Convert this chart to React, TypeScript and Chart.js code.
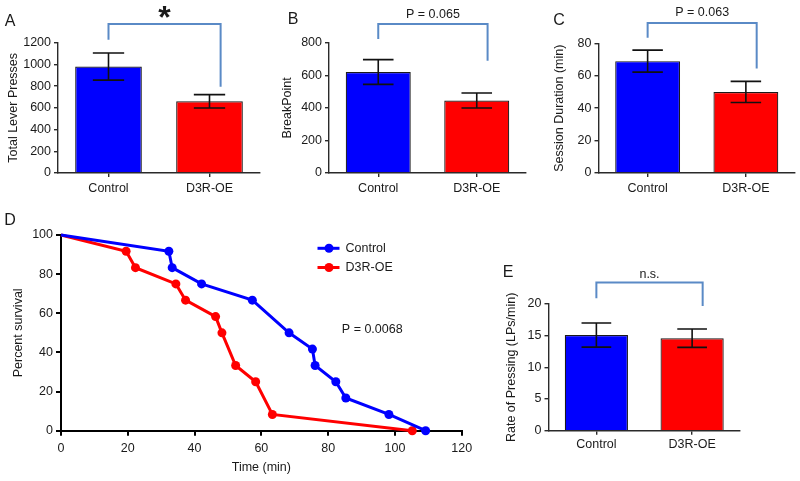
import React, { useEffect, useRef } from 'react';
import { Chart, registerables } from 'chart.js';

Chart.register(...registerables);

// ---------------- data ----------------
const groups = ['Control', 'D3R-OE'];

const leverMean = [980, 660];
const leverSem = [125, 62];

const breakMean = [620, 445];
const breakSem = [76, 46];

const durationMean = [69, 50];
const durationSem = [6.8, 6.5];

const rateMean = [15.1, 14.6];
const rateSem = [1.9, 1.45];

const controlTime = [0, 32.3, 33.3, 42.1, 57.3, 68.3, 75.3, 76.1, 82.3, 85.3, 98.2, 109.2];
const controlSurvival = [100, 91.7, 83.3, 75, 66.7, 50, 41.7, 33.3, 25, 16.7, 8.3, 0];
const d3rTime = [0, 19.5, 22.3, 34.4, 37.3, 46.3, 48.2, 52.3, 58.3, 63.3, 105.2];
const d3rSurvival = [100, 91.7, 83.3, 75, 66.7, 58.3, 50, 33.3, 25, 8.3, 0];

const pLabels = ['*', 'P = 0.065', 'P = 0.063', 'n.s.'];
const survivalP = 'P = 0.0068';

// ---------------- styles ----------------
const FONT_FAMILY = "'Liberation Sans', Arial, Helvetica, sans-serif";
const BLUE = '#0000FF';
const RED = '#FF0000';
const AXIS = '#2a2a2a';
const TEXT = '#1a1a1a';
const BRACKET = '#5A8AC6';
const FS = 12.5;

Chart.defaults.font.family = FONT_FAMILY;
Chart.defaults.font.size = FS;
Chart.defaults.color = TEXT;

type Box = { x: number; y: number; w: number; h: number };
type Area = { left: number; top: number; right: number; bottom: number };

type BarSpec = {
  box: Box;
  area: Area;
  yMax: number;
  yStep: number;
  yTitle: string;
  titleCenterX: number;
  xLabelPad: number;
  means: number[];
  sems: number[];
  bracket: { top: number; leftEnd: number; rightEnd: number; label: string; font: string; gap: number };
  letter: { text: string; x: number; y: number };
};

const plainTick = (v: any) => String(v);

function barExtras(p: BarSpec) {
  return {
    id: 'barExtras',
    afterDatasetsDraw(chart: any) {
      const ctx = chart.ctx as CanvasRenderingContext2D;
      const meta = chart.getDatasetMeta(0);
      const ys = chart.scales.y;
      ctx.save();
      ctx.strokeStyle = '#111';
      ctx.lineWidth = 1.6;
      meta.data.forEach((bar: any, i: number) => {
        const m = p.means[i];
        const s = p.sems[i];
        const x = bar.x;
        const half = bar.width * 0.235;
        const yT = ys.getPixelForValue(m + s);
        const yB = ys.getPixelForValue(m - s);
        ctx.beginPath();
        ctx.moveTo(x, yT);
        ctx.lineTo(x, yB);
        ctx.moveTo(x - half, yT);
        ctx.lineTo(x + half, yT);
        ctx.moveTo(x - half, yB);
        ctx.lineTo(x + half, yB);
        ctx.stroke();
      });
      ctx.restore();
    },
    afterDraw(chart: any) {
      const ctx = chart.ctx as CanvasRenderingContext2D;
      const xs = chart.scales.x;
      const ys = chart.scales.y;
      const b = p.bracket;
      const xL = xs.getPixelForValue(0);
      const xR = xs.getPixelForValue(1.11);
      const yTop = ys.getPixelForValue(b.top);
      ctx.save();
      ctx.strokeStyle = BRACKET;
      ctx.lineWidth = 2;
      ctx.beginPath();
      ctx.moveTo(xL, ys.getPixelForValue(b.leftEnd));
      ctx.lineTo(xL, yTop);
      ctx.lineTo(xR, yTop);
      ctx.lineTo(xR, ys.getPixelForValue(b.rightEnd));
      ctx.stroke();
      ctx.fillStyle = TEXT;
      ctx.font = b.font;
      ctx.textAlign = 'center';
      ctx.textBaseline = 'middle';
      ctx.fillText(b.label, (xL + xR) / 2, yTop - b.gap);
      ctx.font = `16px ${FONT_FAMILY}`;
      ctx.fillText(p.letter.text, p.letter.x - p.box.x, p.letter.y - p.box.y);
      ctx.restore();
    },
  };
}

function barConfig(p: BarSpec): any {
  const { box, area } = p;
  const yw = area.left - box.x;
  const padTop = area.top - box.y;
  const padRight = box.x + box.w - area.right;
  const xh = box.y + box.h - area.bottom;
  const lh = FS * 1.2;
  return {
    type: 'bar',
    data: {
      labels: groups,
      datasets: [
        {
          data: p.means,
          backgroundColor: [BLUE, RED],
          borderColor: '#1a1a1a',
          borderWidth: 1.2,
          borderSkipped: 'start',
          barPercentage: 0.66,
          categoryPercentage: 1,
        },
      ],
    },
    options: {
      responsive: false,
      animation: false,
      events: [],
      layout: { padding: { left: 0, top: padTop, right: padRight, bottom: 0 } },
      plugins: { legend: { display: false }, tooltip: { enabled: false } },
      scales: {
        x: {
          grid: { drawOnChartArea: false, offset: false, tickLength: 4, color: AXIS, lineWidth: 1.4 },
          border: { display: true, color: AXIS, width: 1.6 },
          ticks: { padding: p.xLabelPad, color: TEXT, font: { size: FS } },
          afterFit: (s: any) => {
            s.height = xh;
          },
        },
        y: {
          min: 0,
          max: p.yMax,
          ticks: { stepSize: p.yStep, padding: 3, color: TEXT, font: { size: FS }, callback: plainTick },
          grid: { drawOnChartArea: false, tickLength: 4, color: AXIS, lineWidth: 1.4 },
          border: { display: true, color: AXIS, width: 1.4 },
          title: {
            display: true,
            text: p.yTitle,
            color: TEXT,
            font: { size: FS },
            padding: { top: p.titleCenterX - box.x - lh / 2, bottom: 0 },
          },
          afterFit: (s: any) => {
            s.width = yw;
          },
        },
      },
    },
    plugins: [barExtras(p)],
  };
}

const panelA: BarSpec = {
  box: { x: 0, y: 0, w: 270, h: 200 },
  area: { left: 58, top: 42.7, right: 260, bottom: 173 },
  yMax: 1200,
  yStep: 200,
  yTitle: 'Total Lever Presses',
  titleCenterX: 13.3,
  xLabelPad: 3.8,
  means: leverMean,
  sems: leverSem,
  bracket: { top: 1372, leftEnd: 1228, rightEnd: 794, label: pLabels[0], font: `bold 32px ${FONT_FAMILY}`, gap: 5.3 },
  letter: { text: 'A', x: 10, y: 22 },
};

const panelB: BarSpec = {
  box: { x: 260, y: 0, w: 270, h: 200 },
  area: { left: 329, top: 42.7, right: 526, bottom: 173 },
  yMax: 800,
  yStep: 200,
  yTitle: 'BreakPoint',
  titleCenterX: 287.3,
  xLabelPad: 3.8,
  means: breakMean,
  sems: breakSem,
  bracket: { top: 915, leftEnd: 823, rightEnd: 689, label: pLabels[1], font: `${FS}px ${FONT_FAMILY}`, gap: 9.3 },
  letter: { text: 'B', x: 293, y: 20 },
};

const panelC: BarSpec = {
  box: { x: 530, y: 0, w: 270, h: 200 },
  area: { left: 598.5, top: 43.3, right: 795, bottom: 173 },
  yMax: 80,
  yStep: 20,
  yTitle: 'Session Duration (min)',
  titleCenterX: 559.3,
  xLabelPad: 3.8,
  means: durationMean,
  sems: durationSem,
  bracket: { top: 92.5, leftEnd: 83.5, rightEnd: 64.4, label: pLabels[2], font: `${FS}px ${FONT_FAMILY}`, gap: 10.4 },
  letter: { text: 'C', x: 559, y: 21 },
};

const panelE: BarSpec = {
  box: { x: 480, y: 240, w: 320, h: 241 },
  area: { left: 548.5, top: 304, right: 740, bottom: 430.7 },
  yMax: 20,
  yStep: 5,
  yTitle: 'Rate of Pressing (LPs/min)',
  titleCenterX: 511.7,
  xLabelPad: 2.2,
  means: rateMean,
  sems: rateSem,
  bracket: { top: 23.4, leftEnd: 20.9, rightEnd: 19.7, label: pLabels[3], font: `${FS}px ${FONT_FAMILY}`, gap: 8.4 },
  letter: { text: 'E', x: 508, y: 273 },
};

const boxD: Box = { x: 0, y: 205, w: 480, h: 276 };
const areaD: Area = { left: 61, top: 235, right: 461.7, bottom: 430.7 };

function survivalConfig(): any {
  const box = boxD;
  const area = areaD;
  const lh = FS * 1.2;
  const yw = area.left - box.x;
  const padTop = area.top - box.y;
  const padRight = box.x + box.w - area.right;
  const xh = box.y + box.h - area.bottom;
  const extras = {
    id: 'survivalExtras',
    afterDraw(chart: any) {
      const ctx = chart.ctx as CanvasRenderingContext2D;
      const xs = chart.scales.x;
      const ys = chart.scales.y;
      ctx.save();
      // legend
      const legendY = [248.3, 267.5];
      chart.data.datasets.forEach((ds: any, i: number) => {
        const y = legendY[i] - box.y;
        ctx.strokeStyle = ds.borderColor;
        ctx.lineWidth = 3;
        ctx.beginPath();
        ctx.moveTo(317.5 - box.x, y);
        ctx.lineTo(339.5 - box.x, y);
        ctx.stroke();
        ctx.fillStyle = ds.borderColor;
        ctx.beginPath();
        ctx.arc(329 - box.x, y, 4.5, 0, Math.PI * 2);
        ctx.fill();
        ctx.fillStyle = TEXT;
        ctx.font = `${FS}px ${FONT_FAMILY}`;
        ctx.textAlign = 'left';
        ctx.textBaseline = 'middle';
        ctx.fillText(ds.label, 345.5 - box.x, y);
      });
      // p value
      ctx.fillStyle = TEXT;
      ctx.font = `${FS}px ${FONT_FAMILY}`;
      ctx.textAlign = 'left';
      ctx.textBaseline = 'middle';
      ctx.fillText(survivalP, xs.getPixelForValue(84.1), ys.getPixelForValue(51.5));
      // letter
      ctx.font = `16px ${FONT_FAMILY}`;
      ctx.textAlign = 'center';
      ctx.fillText('D', 10 - box.x, 221 - box.y);
      ctx.restore();
    },
  };
  return {
    type: 'line',
    data: {
      datasets: [
        {
          label: 'Control',
          data: controlTime.map((t, i) => ({ x: t, y: controlSurvival[i] })),
          borderColor: BLUE,
          backgroundColor: BLUE,
          borderWidth: 3,
          pointRadius: controlTime.map((_, i) => (i === 0 ? 0 : 4.5)),
          pointBorderWidth: 0,
          tension: 0,
          clip: false,
        },
        {
          label: 'D3R-OE',
          data: d3rTime.map((t, i) => ({ x: t, y: d3rSurvival[i] })),
          borderColor: RED,
          backgroundColor: RED,
          borderWidth: 3,
          pointRadius: d3rTime.map((_, i) => (i === 0 ? 0 : 4.5)),
          pointBorderWidth: 0,
          tension: 0,
          clip: false,
        },
      ],
    },
    options: {
      responsive: false,
      animation: false,
      events: [],
      layout: { padding: { left: 0, top: padTop, right: padRight, bottom: 0 } },
      plugins: { legend: { display: false }, tooltip: { enabled: false } },
      scales: {
        x: {
          type: 'linear',
          min: 0,
          max: 120,
          ticks: { stepSize: 20, padding: 5.5, color: TEXT, font: { size: FS }, callback: plainTick },
          grid: { drawOnChartArea: false, tickLength: 5, color: '#000', lineWidth: 2 },
          border: { display: true, color: '#000', width: 2 },
          title: {
            display: true,
            text: 'Time (min)',
            color: TEXT,
            font: { size: FS },
            padding: { top: 0, bottom: 481 - 468 - lh / 2 },
          },
          afterFit: (s: any) => {
            s.height = xh;
          },
        },
        y: {
          type: 'linear',
          min: 0,
          max: 100,
          ticks: { stepSize: 20, padding: 3, color: TEXT, font: { size: FS }, callback: plainTick },
          grid: { drawOnChartArea: false, tickLength: 5, color: '#000', lineWidth: 2 },
          border: { display: true, color: '#000', width: 2 },
          title: {
            display: true,
            text: 'Percent survival',
            color: TEXT,
            font: { size: FS },
            padding: { top: 18.3 - box.x - lh / 2, bottom: 0 },
          },
          afterFit: (s: any) => {
            s.width = yw;
          },
        },
      },
    },
    plugins: [extras],
  };
}

function ChartCanvas({ box, build }: { box: Box; build: () => any }) {
  const ref = useRef<HTMLCanvasElement | null>(null);
  useEffect(() => {
    if (!ref.current) return;
    const chart = new Chart(ref.current, build());
    return () => chart.destroy();
  }, []);
  return (
    <canvas
      ref={ref}
      width={box.w}
      height={box.h}
      style={{ position: 'absolute', left: box.x, top: box.y, width: box.w, height: box.h, display: 'block' }}
    />
  );
}

export default function App() {
  return (
    <div
      style={{
        position: 'absolute',
        left: 0,
        top: 0,
        width: 800,
        height: 481,
        background: '#fff',
        overflow: 'hidden',
      }}
    >
      <ChartCanvas box={panelA.box} build={() => barConfig(panelA)} />
      <ChartCanvas box={panelB.box} build={() => barConfig(panelB)} />
      <ChartCanvas box={panelC.box} build={() => barConfig(panelC)} />
      <ChartCanvas box={boxD} build={survivalConfig} />
      <ChartCanvas box={panelE.box} build={() => barConfig(panelE)} />
    </div>
  );
}
